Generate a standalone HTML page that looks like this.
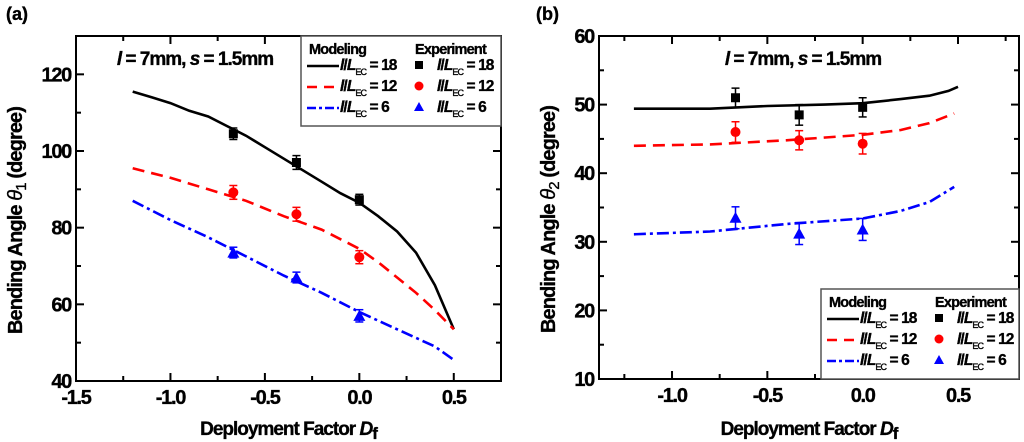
<!DOCTYPE html>
<html><head><meta charset="utf-8">
<style>
html,body{margin:0;padding:0;background:#fff;}
svg{display:block;font-family:"Liberation Sans",Arial,sans-serif;font-weight:bold;}
svg text{stroke:#000;stroke-width:0.35;}
</style></head>
<body>
<svg id="fig" width="1024" height="442" viewBox="0 0 1024 442" xmlns="http://www.w3.org/2000/svg"></svg>
<script>
// ---- Panel (a) data ----
const aBlackX=[-1.2,-1.1,-1.0,-0.9,-0.8,-0.7,-0.6,-0.5,-0.4,-0.3,-0.2,-0.1,0,0.1,0.2,0.3,0.4,0.5];
const aBlackY=[115.5,114,112.5,110.5,109,106.5,104,101,98,95,92,89,86.5,83,79,73.5,65,53.5];
const aRedX=[-1.2,-1.0,-0.8,-0.6,-0.4,-0.2,0,0.1,0.2,0.3,0.4,0.5];
const aRedY=[95.5,93,90,87,83,79.5,74.5,71,67,63,58.5,53.5];
const aBlueX=[-1.2,-1.0,-0.8,-0.6,-0.4,-0.2,0,0.2,0.4,0.5];
const aBlueY=[87,82,77.5,72.5,67.5,63,58,53.5,49,45.5];
const expX=[-0.667,-0.333,0];
const aExpBlack=[104.5,97,87.3];
const aExpRed=[89.2,83.5,72.3];
const aExpBlue=[73.5,67,57];
const aErrBlack=[1.5,1.8,1.4];
const aErrRed=[1.8,1.8,1.7];
const aErrBlue=[1.4,1.4,1.6];
const aXTicks=[-1.5,-1.0,-0.5,0.0,0.5];
const aXTickLabels=["-1.5","-1.0","-0.5","0.0","0.5"];
const aYTicks=[40,60,80,100,120];
// ---- Panel (b) data ----
const bBlackX=[-1.2,-0.8,-0.5,-0.2,0,0.2,0.35,0.45,0.5];
const bBlackY=[49.4,49.4,49.8,50.0,50.2,50.8,51.3,52.0,52.6];
const bRedX=[-1.2,-0.8,-0.4,0,0.2,0.35,0.48];
const bRedY=[44,44.2,44.8,45.6,46.3,47.3,48.7];
const bBlueX=[-1.2,-0.8,-0.4,0,0.2,0.35,0.48];
const bBlueY=[31.1,31.5,32.6,33.4,34.5,35.8,38];
const bExpBlack=[51,48.5,49.6];
const bExpRed=[46,44.8,44.3];
const bExpBlue=[33.5,31.2,31.8];
const bErrBlack=[1.4,1.5,1.4];
const bErrRed=[1.5,1.4,1.5];
const bErrBlue=[1.6,1.6,1.6];
const bXTicks=[-1.0,-0.5,0.0,0.5];
const bXTickLabels=["-1.0","-0.5","0.0","0.5"];
const bYTicks=[10,20,30,40,50,60];

const NS="http://www.w3.org/2000/svg";
const svg=document.getElementById('fig');
function el(tag,attrs,parent){const e=document.createElementNS(NS,tag);for(const k in attrs)e.setAttribute(k,attrs[k]);(parent||svg).appendChild(e);return e;}
function txt(s,attrs,parent){const e=el('text',attrs,parent);e.textContent=s;return e;}

const dashes={black:'',red:'12,7',blue:'12,4,3,4'};
const colors={black:'#000',red:'#f00',blue:'#00f'};

function panel(cfg){
  const g=el('g',{});
  
  
  const {L,R,T,B,x0,x1,y0,y1}=cfg;
  const sx=v=>L+(v-x0)/(x1-x0)*(R-L);
  const sy=v=>B-(v-y0)/(y1-y0)*(B-T);
  const fr=el('rect',{x:L,y:T,width:R-L,height:B-T,fill:'none',stroke:'#000','stroke-width':2},g);
  
  for(let v=cfg.xMinorStart;v<=x1+1e-9;v+=0.25){
    const X=sx(v);if(X<L+1||X>R-1)continue;
    const major=Math.abs(v*2-Math.round(v*2))<1e-6;
    const len=major?8:5;
    el('line',{x1:X,y1:B,x2:X,y2:B-len,stroke:'#000','stroke-width':2},g);
    el('line',{x1:X,y1:T,x2:X,y2:T+len,stroke:'#000','stroke-width':2},g);
  }
  cfg.xTicks.forEach((v,i)=>{
    const t=txt(cfg.xTickLabels[i],{x:sx(v),y:B+23,'text-anchor':'middle','font-size':20,'letter-spacing':-1.3},g);
    
  });
  for(let v=y0;v<=y1+1e-9;v+=cfg.yMinor){
    const Y=sy(v);if(Y<T+1||Y>B-1)continue;
    const major=cfg.yTicks.some(m=>Math.abs(m-v)<1e-6);
    const len=major?8:5;
    el('line',{x1:L,y1:Y,x2:L+len,y2:Y,stroke:'#000','stroke-width':2},g);
    el('line',{x1:R,y1:Y,x2:R-len,y2:Y,stroke:'#000','stroke-width':2},g);
  }
  cfg.yTicks.forEach(v=>{
    const t=txt(String(v),{x:L-5,y:sy(v)+7,'text-anchor':'end','font-size':20,'letter-spacing':-1.3},g);
    
  });
  const xt=txt('',{x:(L+R)/2,y:435,'text-anchor':'middle','font-size':19,'letter-spacing':-1},g);
  
  xt.innerHTML='Deployment Factor <tspan font-style="italic">D</tspan><tspan font-size="17" dy="4">f</tspan>';
  const cy=(T+B)/2+12;
  const yt=txt('',{x:0,y:0,'text-anchor':'middle','font-size':20,'letter-spacing':-0.9,transform:`translate(${cfg.yTitleX},${cy}) rotate(-90)`},g);
  
  yt.innerHTML='Bending Angle <tspan font-style="italic" font-weight="normal">θ</tspan><tspan font-size="15" font-weight="normal" dy="4">'+cfg.sub+'</tspan><tspan dy="-4"> (degree)</tspan>';
  const pl=txt(cfg.label,{x:cfg.labelX,y:20,'font-size':18},g);
  
  const an=txt('',{x:cfg.annX,y:65,'text-anchor':'middle','font-size':19,'letter-spacing':-1},g);
  
  an.innerHTML='<tspan font-style="italic">l</tspan> = 7mm, <tspan font-style="italic">s</tspan> = 1.5mm';
  cfg.series.forEach(s=>{
    const pts=s.x.map((v,i)=>sx(v).toFixed(1)+','+sy(s.y[i]).toFixed(1)).join(' ');
    const p=el('polyline',{points:pts,fill:'none',stroke:colors[s.c],'stroke-width':2.6,'stroke-dasharray':dashes[s.c]},g);
    
    
  });
  cfg.exp.forEach(s=>{
    s.y.forEach((v,i)=>{
      const X=sx(expX[i]),Y=sy(v),ya=sy(v+s.e[i]),yb=sy(v-s.e[i]);
      el('line',{x1:X,y1:ya,x2:X,y2:yb,stroke:colors[s.c],'stroke-width':1.5},g);
      el('line',{x1:X-4,y1:ya,x2:X+4,y2:ya,stroke:colors[s.c],'stroke-width':1.5},g);
      el('line',{x1:X-4,y1:yb,x2:X+4,y2:yb,stroke:colors[s.c],'stroke-width':1.5},g);
      let m;
      if(s.c==='black')m=el('rect',{x:X-4.5,y:Y-4.5,width:9,height:9,fill:'#000'},g);
      else if(s.c==='red')m=el('circle',{cx:X,cy:Y,r:5,fill:'#f00'},g);
      else m=el('polygon',{points:`${X},${Y-6} ${X-6},${Y+5} ${X+6},${Y+5}`,fill:'#00f'},g);
      
      
    });
  });
  const lg=el('g',{},g);
  
  const lx=cfg.legX,ly=cfg.legY;
  el('rect',{x:lx,y:ly,width:cfg.legW,height:90,fill:'#fff',stroke:'#555','stroke-width':1.5},lg);
  txt('Modeling',{x:lx+8,y:ly+18,'font-size':14.5,'letter-spacing':-0.8},lg);
  txt('Experiment',{x:lx+114,y:ly+18,'font-size':14.5,'letter-spacing':-0.8},lg);
  const labs=['18','12','6'];const cs=['black','red','blue'];
  cs.forEach((c,i)=>{
    const yy=ly+34+i*21;
    const e=el('line',{x1:lx+6,y1:yy-4,x2:lx+38,y2:yy-4,stroke:colors[c],'stroke-width':2.6,'stroke-dasharray':c==='blue'?'9,3,3,3':(c==='red'?'10,7':'')},lg);
    
    const t1=txt('',{x:lx+39,y:yy,'font-size':15.5,'letter-spacing':-0.9},lg);
    t1.innerHTML='<tspan font-style="italic">l</tspan>/<tspan font-style="italic">L</tspan><tspan font-size="9" font-weight="normal" dy="5">EC</tspan><tspan dy="-5"> = '+labs[i]+'</tspan>';
    const X=lx+118,Y=yy-5;
    if(c==='black')el('rect',{x:X-4,y:Y-4,width:8,height:8,fill:'#000'},lg);
    else if(c==='red')el('circle',{cx:X,cy:Y,r:4.5,fill:'#f00'},lg);
    else el('polygon',{points:`${X},${Y-5} ${X-5},${Y+4} ${X+5},${Y+4}`,fill:'#00f'},lg);
    const t2=txt('',{x:lx+136,y:yy,'font-size':15.5,'letter-spacing':-0.9},lg);
    t2.innerHTML='<tspan font-style="italic">l</tspan>/<tspan font-style="italic">L</tspan><tspan font-size="9" font-weight="normal" dy="5">EC</tspan><tspan dy="-5"> = '+labs[i]+'</tspan>';
  });
}

panel({name:'panel-a',L:76,R:501,T:36,B:381,x0:-1.5,x1:0.75,y0:40,y1:130,xMinorStart:-1.5,yMinor:10,
  xTicks:aXTicks,xTickLabels:aXTickLabels,yTicks:aYTicks,yTitleX:22,sub:'1',label:'(a)',labelX:6,annX:195,
  series:[{x:aBlackX,y:aBlackY,c:'black'},{x:aRedX,y:aRedY,c:'red'},{x:aBlueX,y:aBlueY,c:'blue'}],
  exp:[{y:aExpBlack,e:aErrBlack,c:'black'},{y:aExpRed,e:aErrRed,c:'red'},{y:aExpBlue,e:aErrBlue,c:'blue'}],
  legX:301,legY:36,legW:200});
panel({name:'panel-b',L:599,R:1019,T:36,B:379,x0:-1.383,x1:0.82,y0:10,y1:60,xMinorStart:-1.25,yMinor:5,
  xTicks:bXTicks,xTickLabels:bXTickLabels,yTicks:bYTicks,yTitleX:555,sub:'2',label:'(b)',labelX:536,annX:803,
  series:[{x:bBlackX,y:bBlackY,c:'black'},{x:bRedX,y:bRedY,c:'red'},{x:bBlueX,y:bBlueY,c:'blue'}],
  exp:[{y:bExpBlack,e:bErrBlack,c:'black'},{y:bExpRed,e:bErrRed,c:'red'},{y:bExpBlue,e:bErrBlue,c:'blue'}],
  legX:821,legY:289,legW:198});
</script>
</body></html>
